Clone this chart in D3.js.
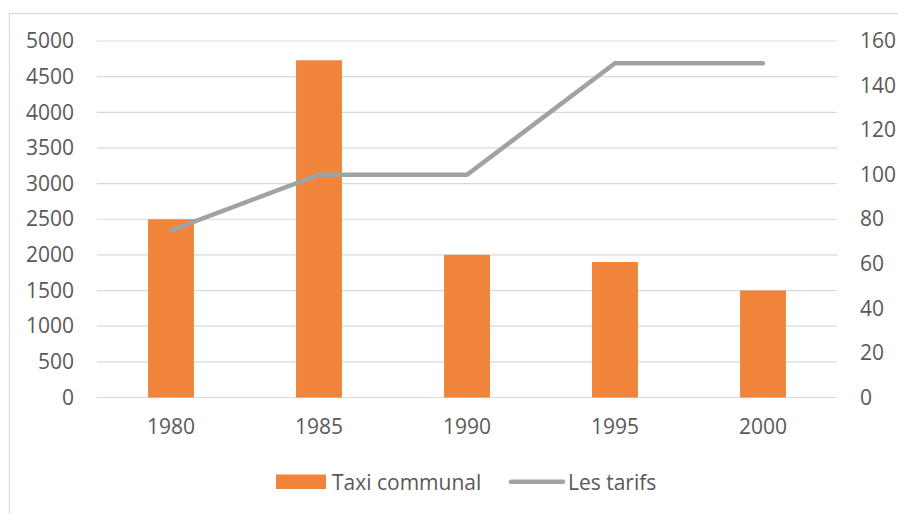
<!DOCTYPE html>
<html>
<head>
<meta charset="utf-8">
<script src="https://cdn.jsdelivr.net/npm/d3@7"></script>
<style>
  html, body { margin: 0; padding: 0; background: #fff; }
  text { font-family: "Open Sans", sans-serif; fill: #595959; }
</style>
</head>
<body>
<svg id="chart"></svg>
<script>
// Data
const years = ["1980", "1985", "1990", "1995", "2000"];
const taxiValues = [2500, 4730, 2000, 1900, 1500];
const tarifValues = [75, 100, 100, 150, 150];
const leftTicks = [0, 500, 1000, 1500, 2000, 2500, 3000, 3500, 4000, 4500, 5000];
const rightTicks = [0, 20, 40, 60, 80, 100, 120, 140, 160];
const seriesNames = ["Taxi communal", "Les tarifs"];

const width = 898;
const height = 513;
const plot = { left: 97, right: 837, top: 41, bottom: 397.5 };
const fontSize = "21px";

const svg = d3.select("#chart")
  .attr("width", width)
  .attr("height", height);

// chart area border (left + top visible)
svg.append("rect")
  .attr("x", 9.5)
  .attr("y", 13.5)
  .attr("width", width + 20)
  .attr("height", height + 20)
  .attr("fill", "none")
  .attr("stroke", "#D9D9D9")
  .attr("stroke-width", 1.2);

const x = d3.scaleBand()
  .domain(years)
  .range([plot.left, plot.right])
  .paddingInner(0.69)
  .paddingOuter(0.345);

const yLeft = d3.scaleLinear().domain([0, 5000]).range([plot.bottom, plot.top]);
const yRight = d3.scaleLinear().domain([0, 160]).range([plot.bottom, plot.top]);

// gridlines
svg.append("g")
  .selectAll("line")
  .data(leftTicks)
  .enter()
  .append("line")
  .attr("x1", plot.left)
  .attr("x2", plot.right)
  .attr("y1", (d) => yLeft(d))
  .attr("y2", (d) => yLeft(d))
  .attr("stroke", "#D9D9D9")
  .attr("stroke-width", 1.2);

function styleAxis(g) {
  g.select(".domain").remove();
  g.selectAll("text")
    .style("font-size", fontSize)
    .attr("fill", "#595959")
    .style("font-family", "'Open Sans', sans-serif");
}

// left axis labels
const leftAxis = d3.axisLeft(yLeft).tickValues(leftTicks).tickFormat(d3.format("d")).tickSize(0).tickPadding(0);
svg.append("g").attr("transform", "translate(74,0)").call(leftAxis).call(styleAxis);

// right axis labels
const rightAxis = d3.axisRight(yRight).tickValues(rightTicks).tickFormat(d3.format("d")).tickSize(0).tickPadding(0);
svg.append("g").attr("transform", "translate(860,0)").call(rightAxis).call(styleAxis);

// bottom axis labels
const bottomAxis = d3.axisBottom(x).tickSize(0).tickPadding(0);
svg.append("g").attr("transform", "translate(0,419)").call(bottomAxis).call(styleAxis);

// bars
svg.append("g")
  .selectAll("rect")
  .data(taxiValues)
  .enter()
  .append("rect")
  .attr("x", (d, i) => x(years[i]))
  .attr("y", (d) => yLeft(d))
  .attr("width", x.bandwidth())
  .attr("height", (d) => yLeft(0) - yLeft(d))
  .attr("fill", "#F0843A");

// line
const line = d3.line()
  .x((d, i) => x(years[i]) + x.bandwidth() / 2)
  .y((d) => yRight(d));

svg.append("path")
  .datum(tarifValues)
  .attr("d", line)
  .attr("fill", "none")
  .attr("stroke", "#A0A3A3")
  .attr("stroke-width", 4.5)
  .attr("stroke-linecap", "round")
  .attr("stroke-linejoin", "miter");

// legend
const legend = svg.append("g");
legend.append("rect")
  .attr("x", 276)
  .attr("y", 474.5)
  .attr("width", 50)
  .attr("height", 14.5)
  .attr("fill", "#F0843A");
legend.append("text")
  .attr("x", 332)
  .attr("y", 482)
  .attr("dominant-baseline", "central")
  .style("font-size", fontSize)
  .text(seriesNames[0]);
legend.append("line")
  .attr("x1", 511)
  .attr("x2", 563)
  .attr("y1", 481.7)
  .attr("y2", 481.7)
  .attr("stroke", "#A0A3A3")
  .attr("stroke-width", 4.5)
  .attr("stroke-linecap", "round");
legend.append("text")
  .attr("x", 568)
  .attr("y", 482)
  .attr("dominant-baseline", "central")
  .style("font-size", fontSize)
  .text(seriesNames[1]);
</script>
</body>
</html>
